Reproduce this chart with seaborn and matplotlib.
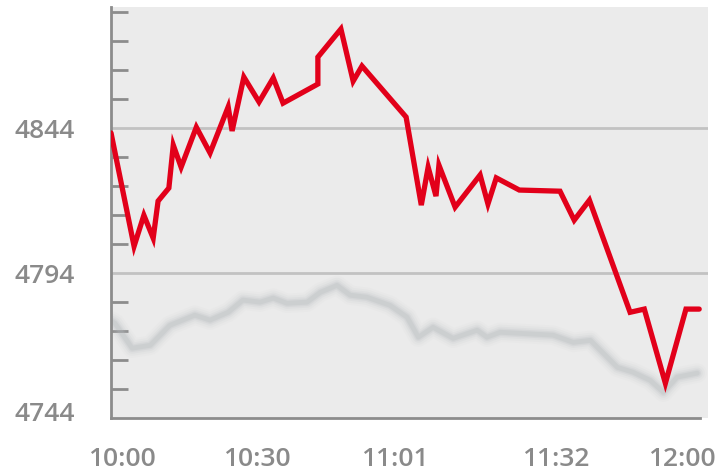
import numpy as np
import pandas as pd
import matplotlib
import matplotlib.pyplot as plt
import matplotlib.transforms as mtransforms
import seaborn as sns

matplotlib.use('Agg')

# minutes after 10:00 and index values of the red (today) line
hoy_min = [0, 4.7, 6.7, 8.6, 9.6, 11.8, 12.7, 14.3, 17.4, 20.2, 23.9, 24.7, 27.1, 30.2,
           33.1, 35.1, 42.2, 42.2, 46.9, 49.4, 51.2, 60.2, 63.3, 64.7, 66.3, 66.9, 70.2,
           75.3, 76.9, 78.6, 83.3, 91.6, 94.5, 97.6, 105.9, 108.8, 113.1, 117.3, 120]
hoy_val = [4842.4, 4803.3, 4814.0, 4806.1, 4818.9, 4823.4, 4838.2, 4830.6, 4844.4, 4835.5,
           4851.4, 4843.1, 4861.7, 4853.1, 4861.4, 4852.7, 4859.3, 4868.6, 4878.3, 4860.3,
           4865.5, 4847.9, 4817.5, 4830.6, 4820.6, 4831.3, 4816.8, 4827.9, 4817.9, 4826.9,
           4822.7, 4822.3, 4812.3, 4819.2, 4780.5, 4781.6, 4756.0, 4781.6, 4781.6]

# grey blurred reference line (previous session)
ayer_min = [0, 0.8, 4.3, 8.0, 12.0, 17.1, 20.2, 23.9, 26.9, 30.4, 33.1, 35.9, 40.0, 42.7,
            46.1, 48.8, 52.2, 56.9, 60.4, 62.7, 65.7, 69.8, 74.7, 76.7, 79.4, 90.2, 94.3,
            97.8, 103.3, 106.5, 110.0, 112.7, 115.5, 119.6]
ayer_val = [4777.5, 4776.7, 4768.1, 4769.1, 4776.0, 4779.5, 4777.8, 4780.5, 4784.7, 4784.0,
            4785.4, 4783.6, 4784.0, 4787.4, 4789.8, 4786.4, 4785.7, 4782.9, 4778.8, 4771.9,
            4775.3, 4771.5, 4774.3, 4771.9, 4773.6, 4772.6, 4770.1, 4770.8, 4761.5, 4759.8,
            4757.0, 4752.9, 4758.1, 4759.5]

y_ticks = [4744, 4794, 4844]
x_labels = ['10:00', '10:30', '11:01', '11:32', '12:00']
x_label_pos = [2.2, 29.8, 57.8, 90.8, 116.5]

df_hoy = pd.DataFrame({'min': hoy_min, 'valor': hoy_val})
df_ayer = pd.DataFrame({'min': ayer_min, 'valor': ayer_val})

sns.set_style('white')
plt.rcParams['font.family'] = ['Open Sans', 'DejaVu Sans']

fig = plt.figure(figsize=(7.21, 4.72), dpi=100)
ax = fig.add_axes([0.154, 0.1144, 0.828, 0.8708])
ax.set_facecolor('#ebebeb')

# sombra difuminada: varias pasadas con grosor creciente
for lw, a in [(14, 0.05), (11, 0.08), (8, 0.12), (5.5, 0.18), (3.5, 0.25)]:
    sns.lineplot(data=df_ayer, x='min', y='valor', ax=ax, sort=False, estimator=None,
                 color='#b4b8bc', lw=lw, alpha=a, solid_capstyle='round',
                 solid_joinstyle='round')

for yv in y_ticks[1:]:
    ax.axhline(yv, color='#c2c2c2', lw=2, zorder=1)

sns.lineplot(data=df_hoy, x='min', y='valor', ax=ax, sort=False, estimator=None,
             color='#e2001a', lw=3.8, solid_joinstyle='miter', zorder=5)

ax.set_xlim(0, 121.8)
ax.set_ylim(4744, 4885.9)
ax.set_xlabel('')
ax.set_ylabel('')

ax.set_yticks(y_ticks)
ax.set_yticks(np.arange(4754, 4886, 10), minor=True)
ax.set_yticklabels([str(v) for v in y_ticks], fontsize=19, color='#8a8a8a',
                   fontweight='semibold')
ax.tick_params(axis='y', which='major', length=0, pad=26)
ax.tick_params(axis='y', which='minor', direction='in', length=12, width=2,
               color='#8c8c8c', left=True)
ax.set_xticks(x_label_pos)
ax.set_xticklabels(x_labels, fontsize=19, color='#8a8a8a', fontweight='semibold')
ax.tick_params(axis='x', length=0, pad=21)

# la etiqueta inferior va algo por encima del eje
lbl = ax.get_yticklabels()[0]
lbl.set_transform(lbl.get_transform() + mtransforms.ScaledTranslation(0, 7 / 100, fig.dpi_scale_trans))

for s in ['top', 'right']:
    ax.spines[s].set_visible(False)
for s in ['left', 'bottom']:
    ax.spines[s].set_color('#8c8c8c')
    ax.spines[s].set_linewidth(2)
ax.spines['bottom'].set_bounds(0, 120.2)

plt.savefig('out.png', dpi=100)
